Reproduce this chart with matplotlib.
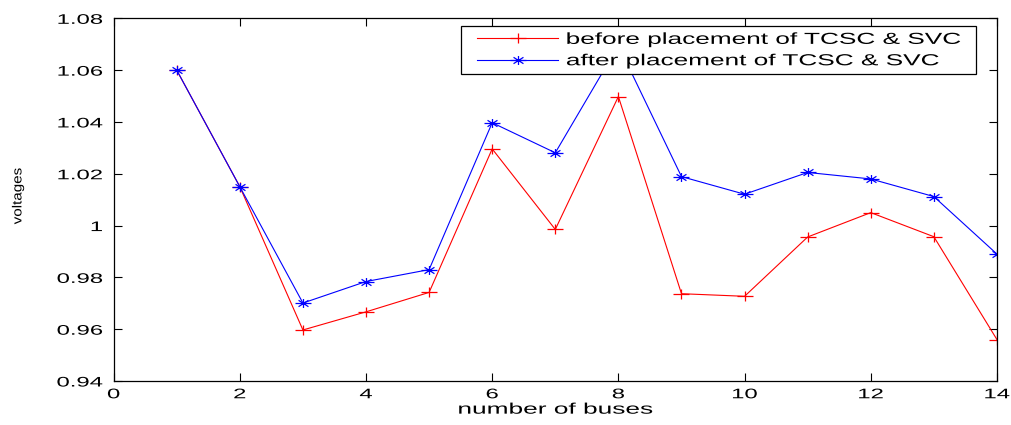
import matplotlib.pyplot as plt
from matplotlib.lines import Line2D
from matplotlib.legend_handler import HandlerLine2D
from matplotlib.path import Path
from matplotlib.patheffects import AbstractPathEffect
from matplotlib.transforms import Affine2D

plt.rcParams['font.family'] = ['Liberation Sans', 'DejaVu Sans']

buses = [1, 2, 3, 4, 5, 6, 7, 8, 9, 10, 11, 12, 13, 14]
v_before = [1.060, 1.015, 0.9597, 0.9667, 0.9742, 1.0296, 0.9985, 1.0498,
            0.9737, 0.9727, 0.9956, 1.0050, 0.9957, 0.9560]
v_after = [1.060, 1.015, 0.9701, 0.9784, 0.9830, 1.0397, 1.0281, 1.0695,
           1.0189, 1.0121, 1.0205, 1.0180, 1.0112, 0.9890]

xticks = [0, 2, 4, 6, 8, 10, 12, 14]
yticks = [0.94, 0.96, 0.98, 1.00, 1.02, 1.04, 1.06, 1.08]
ytick_labels = ['0.94', '0.96', '0.98', '1', '1.02', '1.04', '1.06', '1.08']


class Stretch(AbstractPathEffect):
    """Scale drawn text in screen x/y about an anchor point of its own box."""

    def __init__(self, sx=1.0, sy=1.0, fx=0.5, fy=0.5):
        super().__init__()
        self.sx, self.sy, self.fx, self.fy = sx, sy, fx, fy

    def draw_path(self, renderer, gc, tpath, affine, rgbFace=None):
        bb = tpath.get_extents(affine)
        cx = bb.x0 + self.fx * bb.width
        cy = bb.y0 + self.fy * bb.height
        t = affine + Affine2D().translate(-cx, -cy).scale(self.sx, self.sy).translate(cx, cy)
        renderer.draw_path(gc, tpath, t, rgbFace)


SX = 1.72

# wide plus and wide asterisk markers
M, L = Path.MOVETO, Path.LINETO
plus_wide = Path([(-1, 0), (1, 0), (0, -0.56), (0, 0.56)], [M, L, M, L])
star_wide = Path([(-1, 0), (1, 0), (0, -0.56), (0, 0.56),
                  (-0.62, -0.4), (0.62, 0.4), (-0.62, 0.4), (0.62, -0.4)],
                 [M, L, M, L, M, L, M, L])

fig = plt.figure(figsize=(10.11, 4.25), dpi=100)
ax = fig.add_axes([0.1124, 0.1035, 0.8737, 0.8534])

ax.plot(buses, v_before, color='red', lw=0.8, marker=plus_wide, ms=12, mew=0.9,
        label='before placement of TCSC & SVC')
ax.plot(buses, v_after, color='blue', lw=0.8, marker=star_wide, ms=11.5, mew=0.9,
        label='after placement of TCSC & SVC')

ax.set_xlim(0, 14)
ax.set_ylim(0.94, 1.08)
ax.set_xticks(xticks)
ax.set_yticks(yticks)
ax.set_yticklabels(ytick_labels)
ax.tick_params(direction='in', top=True, right=True, labelsize=10, length=6, width=0.8)
ax.tick_params(axis='y', pad=8)
ax.tick_params(axis='x', pad=4.5)
for s in ax.spines.values():
    s.set_linewidth(0.9)

for t in ax.get_xticklabels():
    t.set_path_effects([Stretch(sx=SX, fx=0.5)])
for t in ax.get_yticklabels():
    t.set_path_effects([Stretch(sx=SX, fx=1.0)])

xl = ax.set_xlabel('number of buses', fontsize=11, labelpad=1)
xl.set_path_effects([Stretch(sx=SX, fx=0.5)])
yl = ax.set_ylabel('voltages', fontsize=9.5)
yl.set_path_effects([Stretch(sy=1.15, fy=0.5)])
ax.yaxis.set_label_coords(-0.101, 0.51)

leg = ax.legend(loc='upper left', bbox_to_anchor=(0.3933, 0.849, 0.583, 0.1295),
                mode='expand', fontsize=11.5, frameon=True, fancybox=False,
                edgecolor='black', framealpha=1, borderpad=0.36, labelspacing=0.4,
                handlelength=5.71, handletextpad=0.52, borderaxespad=0,
                handler_map={Line2D: HandlerLine2D(xpad=0.65)})
leg.get_frame().set_linewidth(0.9)
for t in leg.get_texts():
    t.set_path_effects([Stretch(sx=1.64, fx=0.0)])

fig.savefig('out.png', dpi=100)
